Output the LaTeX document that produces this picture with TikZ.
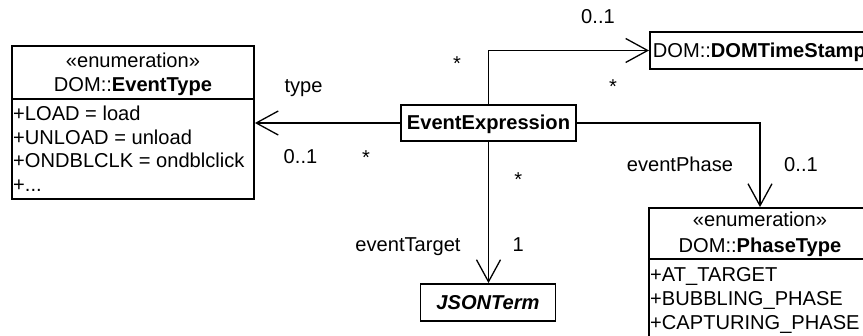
\documentclass[tikz,border=0pt]{standalone}
\usepackage{fontspec}
\setmainfont{Liberation Sans}
\usetikzlibrary{arrows.meta}
\newcommand\umlfont{\fontsize{20.1}{23.5}\selectfont}
\tikzset{
  classbox/.style={draw, line width=1.8pt, inner sep=0pt},
  sepline/.style={line width=1.6pt},
  lbl/.style={inner sep=0pt, anchor=base},
  attr/.style={inner sep=0pt, anchor=base west},
  assoc/.style={line width=1.3pt,
    -{Straight Barb[length=22pt, width=24pt, line width=1.3pt]}},
}
\begin{document}
\begin{tikzpicture}[x=1pt, y=-1pt, font=\umlfont]
\useasboundingbox (0,0) rectangle (863,336);
\clip (0,0) rectangle (863,336);

% enumeration DOM::EventType
\node[classbox, minimum width=242pt, minimum height=153pt] (evtype) at (133,122.5) {};
\draw[sepline] ([yshift=-54pt]evtype.north west) -- ([yshift=-54pt]evtype.north east);
\node[lbl] (evtypeSt) at (133,68) {«enumeration»};
\node[lbl] (evtypeNm) at (133,92) {DOM::\textbf{EventType}};
\node[attr] (evA) at (13,121)   {+LOAD = load};
\node[attr] (evB) at (13,144.5) {+UNLOAD = unload};
\node[attr] (evC) at (13,168)   {+ONDBLCLK = ondblclick};
\node[attr] (evD) at (13,191.5) {+...};

% central class
\node[classbox, minimum width=175pt, minimum height=36pt,
      text height=14pt, text depth=0pt] (eexpr) at (488.5,123) {\textbf{EventExpression}};

% DOM::DOMTimeStamp (runs past the right edge)
\node[classbox, minimum height=37pt, inner xsep=3pt, text width=250pt, align=left,
      text height=14pt, text depth=0pt, anchor=west] (dts) at (649,50.5)
      {DOM::\textbf{DOMTimeStamp}};

% JSONTerm
\node[classbox, minimum width=135pt, minimum height=37pt,
      text height=14pt, text depth=0pt] (json) at (488,302.5) {\textbf{\textit{JSONTerm}}};

% enumeration DOM::PhaseType
\node[classbox, minimum width=222pt, minimum height=152pt] (ptype) at (760,284) {};
\draw[sepline] ([yshift=-52pt]ptype.north west) -- ([yshift=-52pt]ptype.north east);
\node[lbl] (ptypeSt) at (760,227) {«enumeration»};
\node[lbl] (ptypeNm) at (760,253) {DOM::\textbf{PhaseType}};
\node[attr] (phA) at (650,282) {+AT\_TARGET};
\node[attr] (phB) at (650,306) {+BUBBLING\_PHASE};
\node[attr] (phC) at (650,330) {+CAPTURING\_PHASE};

% associations
\draw[assoc] (eexpr.west) -- (eexpr.west -| evtype.east);
\draw[assoc] (eexpr.north) |- (dts.west);
\draw[assoc] (eexpr.east) -| (ptype.north);
\draw[assoc] (eexpr.south) -- (eexpr.south |- json.north);

% role names and multiplicities
\node[lbl] (rType)   at (303.5,93)  {type};
\node[lbl] (mType)   at (300.5,164) {0..1};
\node[lbl] (mTypeS)  at (366,164.5) {*};
\node[lbl] (mTsS)    at (457,71)    {*};
\node[lbl] (mTs)     at (598,23.3)  {0..1};
\node[lbl] (mTsS2)   at (613,94)    {*};
\node[lbl] (mTgtS)   at (518.3,186.4) {*};
\node[lbl] (rTarget) at (408,251.5) {eventTarget};
\node[lbl] (mTarget) at (518.3,251.5) {1};
\node[lbl] (rPhase)  at (680,171.7) {eventPhase};
\node[lbl] (mPhase)  at (801,171.7) {0..1};
\end{tikzpicture}
\end{document}
